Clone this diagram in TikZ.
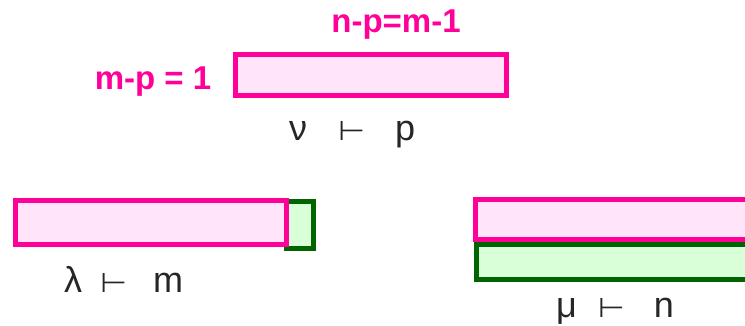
\documentclass[tikz,border=0pt]{standalone}
\usepackage{fontspec}
\usepackage{graphicx}
\setmainfont{Liberation Sans}
\newfontfamily\symbfont{DejaVu Sans}
\usepackage{tikz}
\usetikzlibrary{positioning}
\definecolor{hotpink}{RGB}{255,0,153}
\definecolor{lightpink}{RGB}{255,228,250}
\definecolor{darkgreen}{RGB}{0,100,0}
\definecolor{mintgreen}{RGB}{217,255,217}
% turnstile, wide and low
\newcommand{\tdash}{\resizebox{27pt}{19pt}{\symbfont ⊢}}
\newcommand{\partlabel}[4]{#1\hspace{#2}\tdash\hspace{#3}#4}

\begin{document}
\begin{tikzpicture}[
  x=1pt,y=-1pt,
  pinkbar/.style={draw=hotpink,fill=lightpink,line width=5pt,inner sep=0pt},
  greenbar/.style={draw=darkgreen,fill=mintgreen,line width=5pt,inner sep=0pt},
  eqn/.style={font=\fontsize{33}{33}\selectfont\bfseries,text=hotpink,inner sep=0pt},
  part/.style={font=\fontsize{36}{36}\selectfont,text=black!85,inner sep=0pt,anchor=base west}
]
\clip (0,0) rectangle (745,325);

% top bar (nu)
\node[pinkbar,minimum width=271pt,minimum height=41pt] (nubar) at (371,75) {};
\node[eqn,anchor=base] (npm) at (396,32) {n-p=m-1};
\node[eqn,anchor=base] (mp) at (153,89) {m-p = 1};
\node[part] (nu) at (289,140) {\partlabel{ν}{31pt}{30pt}{p}};

% left bar (lambda)
\node[greenbar,minimum width=27pt,minimum height=47pt] (lamend) at (300,225) {};
\node[pinkbar,minimum width=271pt,minimum height=44pt] (lambar) at (151,222.5) {};
\node[part] (lam) at (64,292) {\partlabel{λ}{18pt}{26pt}{m}};

% right bars (mu)
\node[greenbar,minimum width=314pt,minimum height=35pt] (mulow) at (633.5,262) {};
\node[pinkbar,minimum width=314pt,minimum height=40pt] (mubar) at (632.5,219.5) {};
\node[part] (mu) at (556,317) {\partlabel{μ}{21pt}{29pt}{n}};

\end{tikzpicture}
\end{document}
